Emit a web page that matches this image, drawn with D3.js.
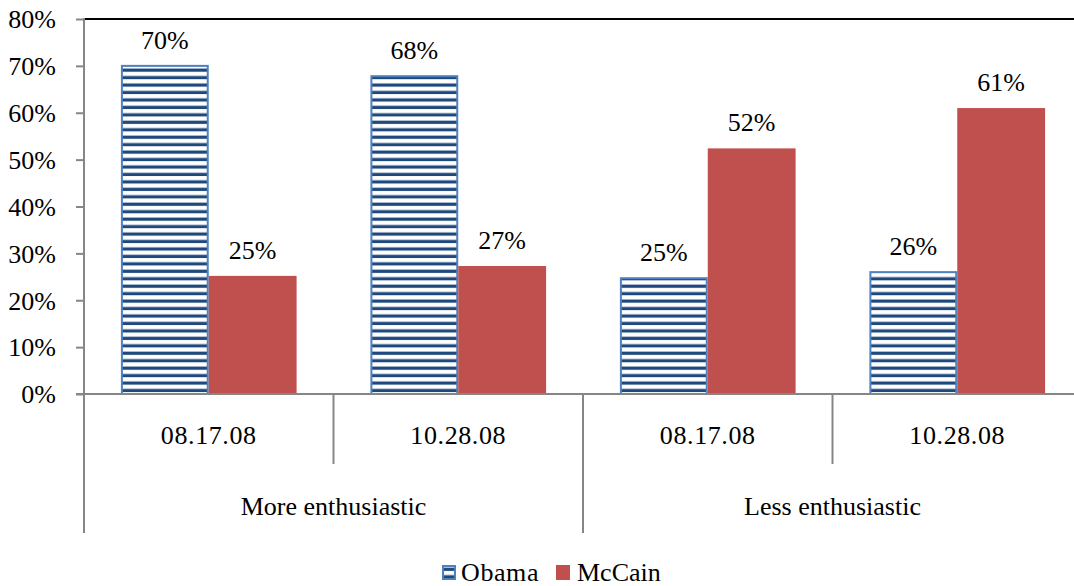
<!DOCTYPE html>
<html><head><meta charset="utf-8">
<script src="https://cdn.jsdelivr.net/npm/d3@7"></script>
<style>body{margin:0;background:#fff}svg{display:block}text{font-family:"Liberation Serif","Times New Roman",serif;fill:#000}</style>
</head><body><svg id="c" width="1074" height="586"></svg>
<script>
const groups = ["More enthusiastic", "Less enthusiastic"];
const dates = ["08.17.08", "10.28.08", "08.17.08", "10.28.08"];
const series = ["Obama", "McCain"];
const obama = [70, 67.8, 24.7, 26];
const mccain = [25.2, 27.3, 52.4, 61];
const labelsObama = ["70%", "68%", "25%", "26%"];
const labelsMcCain = ["25%", "27%", "52%", "61%"];
const yTicks = [0, 10, 20, 30, 40, 50, 60, 70, 80];

(function () {
const FS = 26;
const svg = d3.select("#c");
const L = 84, R = 1082, T = 19, B = 394;
const y = d3.scaleLinear().domain([0, 80]).range([B, T]);
const x = d3.scaleBand().domain(d3.range(4)).range([L, R]).paddingInner(0).paddingOuter(0);
const inner = d3.scaleBand().domain(series).range([0, x.bandwidth()]).paddingOuter(0.42).paddingInner(0);

const defs = svg.append("defs");
const pat = defs.append("pattern").attr("id", "stripes").attr("patternUnits", "userSpaceOnUse")
  .attr("width", 10).attr("height", 7.45);
pat.append("rect").attr("width", 10).attr("height", 7.45).attr("fill", "#fff");
pat.append("rect").attr("y", 1.5).attr("width", 10).attr("height", 3.2).attr("fill", "#1F497D");

svg.append("line").attr("x1", L).attr("x2", R).attr("y1", y(80)).attr("y2", y(80))
  .attr("stroke", "#000").attr("stroke-width", 2);

const yAxis = d3.axisLeft(y).tickValues(yTicks).tickSize(8).tickFormat(d => d + "%");
const ya = svg.append("g").attr("transform", `translate(${L},0)`).call(yAxis);
ya.select(".domain").remove();
ya.selectAll(".tick line").attr("stroke", "#868686").attr("stroke-width", 2);
ya.selectAll(".tick text").attr("x", -28).attr("dy", "0.34em").attr("font-size", FS)
  .attr("font-family", "Liberation Serif").attr("fill", "#000");
svg.append("line").attr("x1", L).attr("x2", L).attr("y1", T - 1).attr("y2", 533)
  .attr("stroke", "#868686").attr("stroke-width", 2);

const data = d3.range(4).map(i => ({i, Obama: obama[i], McCain: mccain[i]}));
const gb = svg.append("g");
gb.selectAll(".ob").data(data).join("rect")
  .attr("x", d => x(d.i) + inner("Obama") + 1).attr("width", inner.bandwidth() - 2)
  .attr("y", d => y(d.Obama)).attr("height", d => B - y(d.Obama))
  .attr("fill", "url(#stripes)").attr("stroke", "#4F81BD").attr("stroke-width", 2);
gb.selectAll(".mc").data(data).join("rect")
  .attr("x", d => x(d.i) + inner("McCain")).attr("width", inner.bandwidth())
  .attr("y", d => y(d.McCain)).attr("height", d => B - y(d.McCain))
  .attr("fill", "#C0504D");

gb.selectAll(".lo").data(data).join("text")
  .attr("x", d => x(d.i) + inner("Obama") + inner.bandwidth() / 2).attr("y", d => y(d.Obama) - 17)
  .attr("text-anchor", "middle").attr("font-size", FS).text(d => labelsObama[d.i]);
gb.selectAll(".lm").data(data).join("text")
  .attr("x", d => x(d.i) + inner("McCain") + inner.bandwidth() / 2).attr("y", d => y(d.McCain) - 17)
  .attr("text-anchor", "middle").attr("font-size", FS).text(d => labelsMcCain[d.i]);

svg.append("line").attr("x1", L - 8).attr("x2", R).attr("y1", B).attr("y2", B)
  .attr("stroke", "#868686").attr("stroke-width", 2);
[1, 3].forEach(i => svg.append("line").attr("x1", x(i)).attr("x2", x(i)).attr("y1", B).attr("y2", 464)
  .attr("stroke", "#868686").attr("stroke-width", 2));
svg.append("line").attr("x1", x(2)).attr("x2", x(2)).attr("y1", B).attr("y2", 533)
  .attr("stroke", "#868686").attr("stroke-width", 2);

svg.selectAll(".dl").data(dates).join("text")
  .attr("x", (d, i) => x(i) + x.bandwidth() / 2).attr("y", 444)
  .attr("text-anchor", "middle").attr("font-size", FS).attr("letter-spacing", 0.6).text(d => d);
svg.selectAll(".gl").data(groups).join("text")
  .attr("x", (d, i) => x(i * 2) + x.bandwidth()).attr("y", 515)
  .attr("text-anchor", "middle").attr("font-size", FS).text(d => d);

const lg = svg.append("g");
lg.append("rect").attr("x", 443).attr("y", 566).attr("width", 12).attr("height", 13)
  .attr("fill", "url(#stripes)").attr("stroke", "#4F81BD").attr("stroke-width", 2);
lg.append("text").attr("x", 461).attr("y", 581).attr("font-size", FS).attr("letter-spacing", 0.6).text(series[0]);
lg.append("rect").attr("x", 556).attr("y", 565).attr("width", 14).attr("height", 15).attr("fill", "#C0504D");
lg.append("text").attr("x", 577).attr("y", 581).attr("font-size", FS).text(series[1]);
})();
</script></body></html>
